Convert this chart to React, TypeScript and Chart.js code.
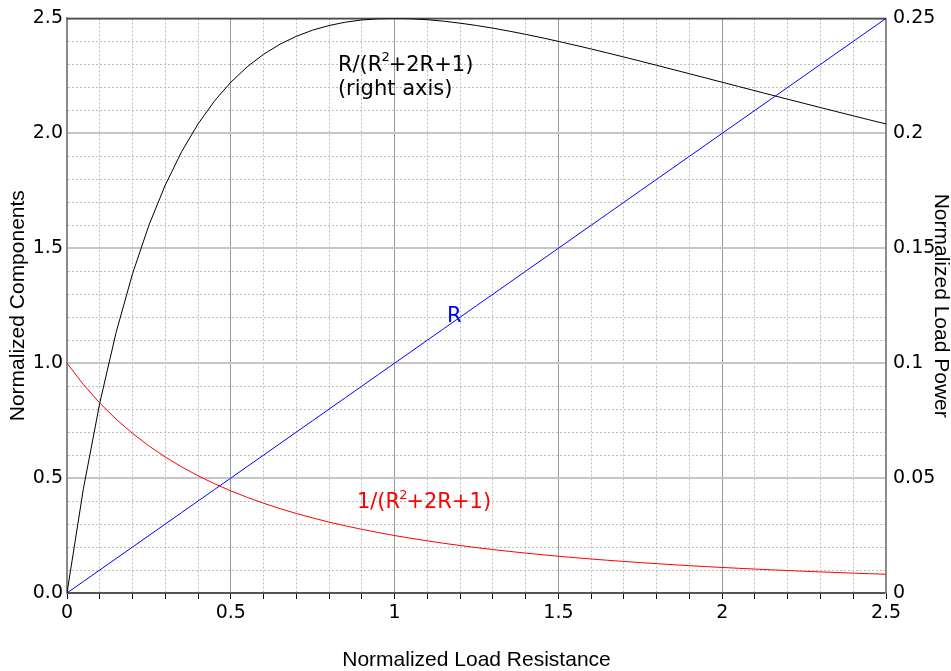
import React, { useEffect, useRef } from "react";
import { Chart, registerables } from "chart.js";

Chart.register(...registerables);

// Normalized load resistance R (x axis)
const R_VALUES = [
  0, 0.05, 0.1, 0.15, 0.2, 0.25, 0.3, 0.35, 0.4, 0.45, 0.5, 0.55, 0.6, 0.65, 0.7, 0.75, 0.8, 0.85, 0.9, 0.95,
  1.0, 1.05, 1.1, 1.15, 1.2, 1.25, 1.3, 1.35, 1.4, 1.45, 1.5, 1.55, 1.6, 1.65, 1.7, 1.75, 1.8, 1.85, 1.9, 1.95,
  2.0, 2.05, 2.1, 2.15, 2.2, 2.25, 2.3, 2.35, 2.4, 2.45, 2.5,
];

// Blue line: R (left axis)
const R_LINE = [
  0, 0.05, 0.1, 0.15, 0.2, 0.25, 0.3, 0.35, 0.4, 0.45, 0.5, 0.55, 0.6, 0.65, 0.7, 0.75, 0.8, 0.85, 0.9, 0.95,
  1.0, 1.05, 1.1, 1.15, 1.2, 1.25, 1.3, 1.35, 1.4, 1.45, 1.5, 1.55, 1.6, 1.65, 1.7, 1.75, 1.8, 1.85, 1.9, 1.95,
  2.0, 2.05, 2.1, 2.15, 2.2, 2.25, 2.3, 2.35, 2.4, 2.45, 2.5,
];

// Red line: 1/(R^2+2R+1) (left axis)
const INV_LINE = [
  1.0, 0.907, 0.8264, 0.7561, 0.6944, 0.64, 0.5917, 0.5487, 0.5102, 0.4756, 0.4444, 0.4162, 0.3906, 0.3673,
  0.346, 0.3265, 0.3086, 0.2922, 0.277, 0.263, 0.25, 0.238, 0.2268, 0.2163, 0.2066, 0.1975, 0.189, 0.1811,
  0.1736, 0.1666, 0.16, 0.1538, 0.1479, 0.1424, 0.1372, 0.1322, 0.1276, 0.1231, 0.1189, 0.1149, 0.1111,
  0.1075, 0.1041, 0.1008, 0.0977, 0.0947, 0.0918, 0.0891, 0.0865, 0.084, 0.0816,
];

// Black line: R/(R^2+2R+1) (right axis)
const POWER_LINE = [
  0, 0.04535, 0.08264, 0.11342, 0.13889, 0.16, 0.17751, 0.19204, 0.20408, 0.21403, 0.22222, 0.22893, 0.23438,
  0.23875, 0.24221, 0.2449, 0.24691, 0.24836, 0.24931, 0.24984, 0.25, 0.24985, 0.24943, 0.24878, 0.24793,
  0.24691, 0.24575, 0.24445, 0.24306, 0.24157, 0.24, 0.23837, 0.23669, 0.23496, 0.2332, 0.2314, 0.22959,
  0.22776, 0.22592, 0.22407, 0.22222, 0.22037, 0.21852, 0.21668, 0.21484, 0.21302, 0.2112, 0.2094, 0.20761,
  0.20584, 0.20408,
];

const X_TITLE = "Normalized Load Resistance";
const Y_TITLE = "Normalized Components";
const Y2_TITLE = "Normalized Load Power";

const TICK_FONT = "DejaVu Sans";
const TITLE_FONT = "Liberation Sans";

const isMajor = (v: number) => Math.abs(v * 2 - Math.round(v * 2)) < 1e-6;

const annotationPlugin = {
  id: "annotations",
  beforeDatasetsDraw(chart: any) {
    const { ctx, chartArea } = chart;
    ctx.save();
    ctx.strokeStyle = "#000";
    ctx.lineWidth = 1;
    ctx.beginPath();
    ctx.moveTo(chartArea.left, chartArea.top + 0.5);
    ctx.lineTo(chartArea.right, chartArea.top + 0.5);
    ctx.stroke();
    ctx.restore();
  },
  afterDatasetsDraw(chart: any) {
    const { ctx } = chart;
    const xs = chart.scales.x;
    const ys = chart.scales.y;
    const main = `21px "${TICK_FONT}"`;
    const sup = `13px "${TICK_FONT}"`;
    ctx.save();
    ctx.textBaseline = "middle";
    ctx.textAlign = "left";

    const drawFormula = (prefix: string, px: number, py: number, color: string) => {
      ctx.fillStyle = color;
      ctx.font = main;
      let x = px;
      const a = prefix + "(R";
      ctx.fillText(a, x, py);
      x += ctx.measureText(a).width;
      ctx.font = sup;
      ctx.fillText("2", x - 1, py - 7);
      x += ctx.measureText("2").width - 2;
      ctx.font = main;
      ctx.fillText("+2R+1)", x, py);
    };

    // black label (right axis curve)
    drawFormula("R/", xs.getPixelForValue(0.827), ys.getPixelForValue(2.297), "#000");
    ctx.font = main;
    ctx.fillStyle = "#000";
    ctx.fillText("(right axis)", xs.getPixelForValue(0.827), ys.getPixelForValue(2.19));

    // blue label
    ctx.fillStyle = "#0000ff";
    ctx.fillText("R", xs.getPixelForValue(1.16), ys.getPixelForValue(1.202));

    // red label
    drawFormula("1/", xs.getPixelForValue(0.885), ys.getPixelForValue(0.394), "#ff0000");
    ctx.restore();
  },
};

export default function App() {
  const ref = useRef<HTMLCanvasElement | null>(null);

  useEffect(() => {
    document.body.style.margin = "0";
    const canvas = ref.current;
    if (!canvas) return;

    const toPts = (ys: number[]) => R_VALUES.map((x, i) => ({ x, y: ys[i] }));

    const chart = new Chart(canvas, {
      type: "line",
      data: {
        datasets: [
          {
            label: "R",
            data: toPts(R_LINE),
            borderColor: "#0000ff",
            borderWidth: 1,
            pointRadius: 0,
            yAxisID: "y",
          },
          {
            label: "1/(R^2+2R+1)",
            data: toPts(INV_LINE),
            borderColor: "#ff0000",
            borderWidth: 1,
            pointRadius: 0,
            yAxisID: "y",
          },
          {
            label: "R/(R^2+2R+1)",
            data: toPts(POWER_LINE),
            borderColor: "#000000",
            borderWidth: 1,
            pointRadius: 0,
            yAxisID: "y2",
          },
        ],
      },
      options: {
        animation: false,
        responsive: false,
        devicePixelRatio: 1,
        layout: { padding: { top: 15, left: 0, right: 0, bottom: 0 } },
        plugins: { legend: { display: false }, tooltip: { enabled: false } },
        elements: { line: { tension: 0 } },
        scales: {
          x: {
            type: "linear",
            min: 0,
            max: 2.5,
            afterFit: (s: any) => {
              s.height = 78;
            },
            ticks: {
              stepSize: 0.1,
              autoSkip: false,
              maxRotation: 0,
              padding: 3,
              color: "#000",
              font: { family: TICK_FONT, size: 19 },
              callback: (v: any) => (isMajor(Number(v)) ? String(Math.round(Number(v) * 10) / 10) : ""),
            },
            grid: {
              color: (c: any) => (c.tick && isMajor(c.tick.value) ? "#999999" : "#bdbdbd"),
              lineWidth: 1,
              tickColor: "#000",
              tickLength: 6,
              tickWidth: 1,
            },
            border: {
              color: "#555",
              width: 2,
              dash: (c: any) => (c.tick && !isMajor(c.tick.value) ? [2, 2] : []),
            },
            title: {
              display: true,
              text: X_TITLE,
              color: "#000",
              font: { family: TITLE_FONT, size: 21, lineHeight: 1 },
              padding: { top: 0, bottom: 0.5 },
            },
          },
          y: {
            type: "linear",
            position: "left",
            min: 0,
            max: 2.5,
            afterFit: (s: any) => {
              s.width = 67;
            },
            ticks: {
              stepSize: 0.1,
              autoSkip: false,
              padding: 4,
              color: "#000",
              font: { family: TICK_FONT, size: 19 },
              callback: (v: any) => (isMajor(Number(v)) ? Number(v).toFixed(1) : ""),
            },
            grid: {
              color: (c: any) => (c.tick && isMajor(c.tick.value) ? "#c6c6c6" : "#bdbdbd"),
              lineWidth: (c: any) => (c.tick && isMajor(c.tick.value) ? 2 : 1),
              drawTicks: false,
            },
            border: {
              color: "#888",
              width: 2,
              dash: (c: any) => (c.tick && !isMajor(c.tick.value) ? [2, 2] : []),
            },
            title: {
              display: true,
              text: Y_TITLE,
              color: "#000",
              font: { family: TITLE_FONT, size: 21, lineHeight: 1 },
              padding: { top: 7.5, bottom: 0 },
            },
          },
          y2: {
            type: "linear",
            position: "right",
            min: 0,
            max: 0.25,
            afterFit: (s: any) => {
              s.width = 65;
            },
            ticks: {
              stepSize: 0.05,
              autoSkip: false,
              padding: 7,
              color: "#000",
              font: { family: TICK_FONT, size: 19 },
              callback: (v: any) => String(Math.round(Number(v) * 100) / 100),
            },
            grid: { drawOnChartArea: false, drawTicks: false },
            border: { color: "#888", width: 1.5 },
            title: {
              display: true,
              text: Y2_TITLE,
              color: "#000",
              font: { family: TITLE_FONT, size: 21, lineHeight: 1 },
              padding: { top: 0, bottom: 0 },
            },
          },
        },
      } as any,
      plugins: [annotationPlugin],
    });

    return () => chart.destroy();
  }, []);

  return <canvas ref={ref} width={951} height={671} style={{ display: "block", width: 951, height: 671 }} />;
}
